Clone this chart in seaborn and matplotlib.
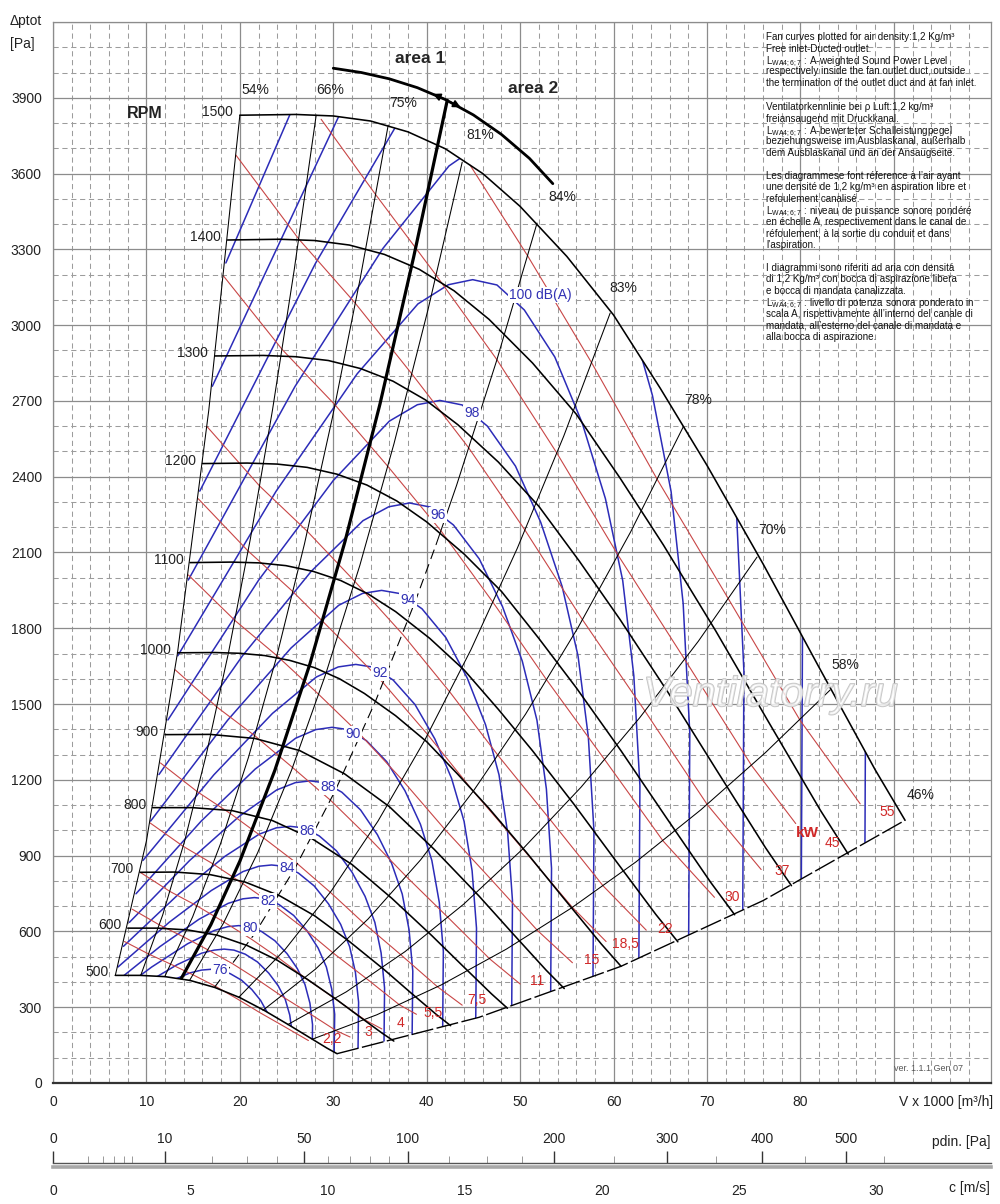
import numpy as np
import matplotlib
matplotlib.use("Agg")
import matplotlib.pyplot as plt
import seaborn as sns
from matplotlib.patches import Polygon
import matplotlib.patheffects as pe

sns.set_style("white")
plt.rcParams["font.family"] = ["Liberation Sans", "DejaVu Sans"]
plt.rcParams["mathtext.fontset"] = "custom"
plt.rcParams["mathtext.rm"] = "Liberation Sans"

# ---------------- data ----------------
# fan curves (V x1000 m3/h , p Pa) per rotational speed
rpm_levels = [500, 600, 700, 800, 900, 1000, 1100, 1200, 1300, 1400, 1500]
rpm1500_V = [20, 26, 30, 34, 38, 42, 46, 50, 55, 60, 65, 70, 76, 82, 88, 91.2]
rpm1500_p = [3831, 3834, 3828, 3808, 3765, 3698, 3600, 3470, 3272, 3040, 2750, 2445, 2055, 1645, 1240, 1040]
rpm1400_V = [18.67, 24.27, 28.0, 31.73, 35.47, 39.2, 42.93, 46.67, 51.33, 56.0, 60.67, 65.33, 70.93, 76.53, 82.13, 85.12]
rpm1400_p = [3337, 3340, 3335, 3317, 3280, 3221, 3136, 3023, 2850, 2648, 2396, 2130, 1790, 1433, 1080, 906]
rpm1300_V = [17.33, 22.53, 26.0, 29.47, 32.93, 36.4, 39.87, 43.33, 47.67, 52.0, 56.33, 60.67, 65.87, 71.07, 76.27, 79.04]
rpm1300_p = [2878, 2880, 2875, 2860, 2828, 2778, 2704, 2606, 2458, 2283, 2066, 1836, 1544, 1236, 931, 781]
rpm1200_V = [16, 20.8, 24, 27.2, 30.4, 33.6, 36.8, 40, 44, 48, 52, 56, 60.8, 65.6, 70.4, 72.96]
rpm1200_p = [2452, 2454, 2450, 2437, 2410, 2367, 2304, 2221, 2094, 1946, 1760, 1565, 1315, 1053, 794, 666]
rpm1100_V = [14.67, 19.07, 22.0, 24.93, 27.87, 30.8, 33.73, 36.67, 40.33, 44.0, 47.67, 51.33, 55.73, 60.13, 64.53, 66.88]
rpm1100_p = [2060, 2062, 2059, 2048, 2025, 1989, 1936, 1866, 1760, 1635, 1479, 1315, 1105, 885, 667, 559]
rpm1000_V = [13.33, 17.33, 20.0, 22.67, 25.33, 28.0, 30.67, 33.33, 36.67, 40.0, 43.33, 46.67, 50.67, 54.67, 58.67, 60.8]
rpm1000_p = [1703, 1704, 1701, 1692, 1673, 1644, 1600, 1542, 1454, 1351, 1222, 1087, 913, 731, 551, 462]
rpm900_V = [12.0, 16.8, 21.6, 26.4, 31.2, 36.0, 40.8, 45.6, 49.2, 52.8, 54.72]
rpm900_p = [1379, 1380, 1364, 1316, 1224, 1094, 925, 740, 592, 446, 374]
rpm800_V = [10.67, 14.93, 19.2, 23.47, 27.73, 32.0, 36.27, 40.53, 43.73, 46.93, 48.64]
rpm800_p = [1090, 1090, 1078, 1039, 967, 865, 731, 584, 468, 353, 296]
rpm700_V = [9.33, 13.07, 16.8, 20.53, 24.27, 28.0, 31.73, 35.47, 38.27, 41.07, 42.56]
rpm700_p = [834, 835, 825, 796, 741, 662, 560, 448, 358, 270, 227]
rpm600_V = [8.0, 11.2, 14.4, 17.6, 20.8, 24.0, 27.2, 30.4, 32.8, 35.2, 36.48]
rpm600_p = [613, 613, 606, 585, 544, 486, 411, 329, 263, 198, 166]
rpm500_V = [6.67, 9.33, 12.0, 14.67, 17.33, 20.0, 22.67, 25.33, 27.33, 29.33, 30.4]
rpm500_p = [426, 426, 421, 406, 378, 338, 286, 228, 183, 138, 116]

# iso-efficiency lines
eff54_V = [6.67, 10.0, 13.33, 16.67, 20.0]
eff54_p = [426, 958, 1704, 2662, 3831]
eff66_V = [9.39, 11.74, 14.09, 16.43, 18.78, 21.13, 23.48, 25.82, 28.17]
eff66_p = [426, 665, 958, 1304, 1703, 2155, 2661, 3219, 3831]
eff75_V = [11.96, 14.95, 17.94, 20.93, 23.92, 26.91, 29.9, 32.89, 35.88]
eff75_p = [421, 658, 948, 1290, 1685, 2133, 2633, 3186, 3792]
eff81_V = [14.6, 18.25, 21.9, 25.55, 29.2, 32.85, 36.5, 40.15, 43.8]
eff81_p = [405, 633, 911, 1240, 1620, 2050, 2531, 3063, 3645]
eff84_dash_V = [17.27, 21.59, 25.91, 30.22, 34.54, 38.86, 41.0]
eff84_dash_p = [378, 591, 851, 1158, 1513, 1915, 2131]
eff84_V = [41.0, 43.18, 47.49, 51.81]
eff84_p = [2131, 2364, 2860, 3404]
eff83_V = [19.88, 24.85, 29.82, 34.79, 39.76, 44.73, 49.7, 54.67, 59.64]
eff83_p = [339, 529, 762, 1037, 1355, 1715, 2117, 2561, 3048]
eff78_V = [22.48, 28.1, 33.72, 39.34, 44.96, 50.58, 56.2, 61.82, 67.44]
eff78_p = [288, 451, 649, 883, 1154, 1460, 1803, 2181, 2596]
eff70_V = [25.12, 31.4, 37.68, 43.96, 50.24, 56.52, 62.8, 69.08, 75.36]
eff70_p = [231, 361, 520, 708, 925, 1171, 1446, 1749, 2082]
eff58_V = [27.73, 34.66, 41.6, 48.53, 55.46, 62.39, 69.33, 76.26, 83.19]
eff58_p = [173, 270, 389, 530, 692, 875, 1081, 1308, 1556]
eff46_V = [30.4, 45.6, 60.8, 76.0, 91.2]
eff46_p = [116, 260, 462, 722, 1040]
eff_labels = ["54%", "66%", "75%", "81%", "84%", "83%", "78%", "70%", "58%", "46%"]
eff_label_V = [21.63, 29.66, 37.47, 45.72, 54.50, 61.03, 69.06, 76.98, 84.80, 92.83]
eff_label_p = [3930, 3930, 3879, 3752, 3507, 3147, 2703, 2189, 1654, 1140]

# absorbed power lines (kW)
kw2_2_V = [7.65, 10.27, 12.63, 15.0, 17.38, 19.72, 22.12, 24.73, 27.34]
kw2_2_p = [560, 510, 470, 428, 383, 333, 279, 224, 168]
kw3_V = [8.475, 11.38, 14.0, 16.63, 19.27, 21.87, 24.52, 27.42, 30.32, 31.8]
kw3_p = [688, 626, 578, 526, 471, 410, 343, 276, 207, 182]
kw4_V = [9.33, 12.53, 15.42, 18.31, 21.21, 24.07, 26.99, 30.18, 33.37, 35.2]
kw4_p = [834, 758, 701, 637, 570, 497, 416, 334, 250, 214]
kw5_5_V = [10.37, 13.93, 17.14, 20.36, 23.58, 26.77, 30.01, 33.56, 37.10, 38.9]
kw5_5_p = [1030, 937, 867, 788, 705, 614, 514, 413, 309, 272]
kw7_5_V = [11.50, 15.45, 19.01, 22.58, 26.16, 29.68, 33.28, 37.22, 41.15, 43.8]
kw7_5_p = [1267, 1153, 1066, 969, 868, 755, 632, 508, 381, 308]
kw11_V = [13.07, 17.55, 21.59, 25.64, 29.71, 33.72, 37.82, 42.29, 46.75, 50.0]
kw11_p = [1636, 1488, 1375, 1249, 1119, 974, 817, 655, 491, 392]
kw15_V = [14.49, 19.47, 23.95, 28.45, 32.95, 37.40, 41.94, 46.89, 51.85, 55.6]
kw15_p = [2011, 1831, 1692, 1538, 1377, 1199, 1004, 806, 604, 476]
kw18_5_V = [15.54, 20.88, 25.68, 30.50, 35.34, 40.11, 44.98, 50.28, 55.60, 59.2]
kw18_5_p = [2313, 2106, 1945, 1767, 1584, 1379, 1155, 927, 695, 560]
kw22_V = [16.47, 22.12, 27.21, 32.32, 37.43, 42.49, 47.65, 53.27, 58.89, 63.5]
kw22_p = [2599, 2363, 2184, 1985, 1776, 1547, 1296, 1040, 780, 605]
kw30_V = [18.26, 24.52, 30.17, 35.84, 41.52, 47.11, 52.85, 59.07, 65.30, 70.8]
kw30_p = [3194, 2904, 2685, 2441, 2186, 1902, 1595, 1279, 958, 735]
kw37_V = [19.58, 26.30, 32.35, 38.43, 44.52, 50.53, 56.67, 63.37, 70.03, 75.8]
kw37_p = [3673, 3341, 3087, 2806, 2513, 2188, 1834, 1472, 1102, 845]
kw45_V = [28.7, 34.53, 41.02, 47.52, 53.94, 60.49, 67.63, 74.77, 79.5]
kw45_p = [3815, 3517, 3197, 2863, 2493, 2089, 1676, 1257, 1027]
kw55_V = [44.65, 50.81, 57.67, 64.68, 72.30, 79.94, 86.4]
kw55_p = [3633, 3274, 2850, 2389, 1916, 1437, 1105]
kw_labels = ["2,2", "3", "4", "5,5", "7,5", "11", "15", "18,5", "22", "30", "37", "45", "55"]
kw_label_V = [29.87, 33.73, 37.15, 40.69, 45.40, 51.82, 57.71, 61.24, 65.52, 72.70, 78.05, 83.40, 89.29]
kw_label_p = [174, 202, 237, 277, 329, 404, 487, 550, 610, 736, 839, 950, 1073]

# sound power level curves dB(A)
db76_V = [5.01, 8.97, 12.23, 14.68, 15.90, 16.88, 17.85, 18.96, 20.18, 21.28, 22.22, 22.91, 23.36, 23.60, 23.56]
db76_p = [239, 331, 398, 436, 447, 450, 447, 433, 407, 370, 327, 281, 228, 167, 70]
db78_V = [5.44, 9.73, 13.27, 15.92, 17.25, 18.31, 19.37, 20.57, 21.89, 23.09, 24.10, 24.86, 25.34, 25.61, 25.56]
db78_p = [282, 390, 468, 514, 526, 530, 526, 510, 479, 435, 385, 331, 269, 196, 83]
db80_V = [5.90, 10.56, 14.40, 17.28, 18.72, 19.87, 21.02, 22.31, 23.75, 25.05, 26.15, 26.97, 27.50, 27.78, 27.74]
db80_p = [331, 459, 551, 604, 619, 623, 619, 600, 563, 512, 453, 390, 316, 231, 97]
db82_V = [6.40, 11.45, 15.62, 18.74, 20.31, 21.56, 22.80, 24.21, 25.77, 27.18, 28.38, 29.26, 29.83, 30.15, 30.09]
db82_p = [390, 540, 648, 711, 729, 734, 729, 706, 663, 603, 534, 459, 372, 272, 115]
db84_V = [6.95, 12.43, 16.95, 20.34, 22.03, 23.39, 24.74, 26.27, 27.96, 29.49, 30.79, 31.75, 32.37, 32.71, 32.65]
db84_p = [459, 636, 762, 837, 858, 863, 858, 831, 780, 709, 628, 540, 438, 320, 135]
db86_V = [7.54, 13.48, 18.39, 22.07, 23.90, 25.38, 26.85, 28.50, 30.34, 32.00, 33.40, 34.45, 35.12, 35.49, 35.43]
db86_p = [541, 749, 897, 985, 1010, 1016, 1010, 978, 919, 835, 739, 636, 515, 376, 159]
db88_V = [8.18, 14.63, 19.95, 23.94, 25.94, 27.53, 29.13, 30.92, 32.92, 34.72, 36.24, 37.38, 38.11, 38.51, 38.44]
db88_p = [636, 881, 1056, 1160, 1189, 1196, 1188, 1151, 1081, 983, 870, 748, 607, 443, 187]
db90_V = [8.88, 15.87, 21.65, 25.98, 28.14, 29.87, 31.60, 33.55, 35.72, 37.67, 39.33, 40.55, 41.35, 41.78, 41.71]
db90_p = [749, 1037, 1243, 1365, 1399, 1408, 1399, 1355, 1272, 1157, 1024, 881, 714, 521, 220]
db92_V = [9.63, 17.22, 23.49, 28.18, 30.53, 32.41, 34.29, 36.41, 38.75, 40.87, 42.67, 44.00, 44.86, 45.33, 45.25]
db92_p = [881, 1220, 1463, 1607, 1647, 1657, 1646, 1595, 1498, 1362, 1205, 1036, 840, 613, 259]
db94_V = [10.45, 18.69, 25.48, 30.58, 33.13, 35.17, 37.21, 39.50, 42.05, 44.34, 46.30, 47.74, 48.67, 49.18, 49.10]
db94_p = [1037, 1436, 1722, 1891, 1938, 1950, 1937, 1877, 1763, 1603, 1418, 1220, 989, 722, 305]
db96_V = [11.34, 20.28, 27.65, 33.18, 35.94, 38.16, 40.37, 42.86, 45.62, 48.11, 50.23, 51.80, 52.81, 53.36, 53.27]
db96_p = [1221, 1691, 2026, 2226, 2281, 2296, 2280, 2209, 2075, 1886, 1670, 1436, 1164, 850, 359]
db98_V = [12.3, 22.0, 30.0, 36.0, 39.0, 41.4, 43.8, 46.5, 49.5, 52.2, 54.5, 56.2, 57.3, 57.9, 57.8]
db98_p = [1437, 1990, 2385, 2620, 2685, 2702, 2684, 2600, 2442, 2220, 1965, 1690, 1370, 1000, 422]
db100_V = [13.35, 23.87, 32.55, 39.06, 42.32, 44.92, 47.52, 50.45, 53.71, 56.64, 59.13, 60.98, 62.17, 62.82, 62.71]
db100_p = [1691, 2342, 2807, 3084, 3160, 3180, 3159, 3060, 2874, 2613, 2313, 1989, 1612, 1177, 497]
db102_V = [14.48, 25.90, 35.32, 42.38, 45.91, 48.74, 51.56, 54.74, 58.27, 61.45, 64.16, 66.16, 67.45, 68.16, 68.04]
db102_p = [1991, 2757, 3304, 3630, 3720, 3743, 3718, 3602, 3383, 3075, 2722, 2341, 1898, 1385, 585]
db104_V = [15.71, 28.10, 38.32, 45.98, 49.81, 52.88, 55.95, 59.39, 63.23, 66.68, 69.61, 71.78, 73.19, 73.95, 73.83]
db104_p = [2343, 3245, 3889, 4272, 4378, 4406, 4376, 4239, 3982, 3620, 3204, 2756, 2234, 1631, 688]
db106_V = [17.05, 30.49, 41.58, 49.89, 54.05, 57.38, 60.70, 64.44, 68.60, 72.34, 75.53, 77.89, 79.41, 80.24, 80.10]
db106_p = [2758, 3819, 4577, 5028, 5153, 5185, 5151, 4990, 4686, 4260, 3771, 3243, 2629, 1919, 810]
db108_V = [18.50, 33.08, 45.11, 54.13, 58.64, 62.25, 65.86, 69.92, 74.43, 78.49, 81.95, 84.51, 86.16, 87.06, 86.91]
db108_p = [3246, 4495, 5387, 5918, 6065, 6103, 6063, 5873, 5516, 5015, 4439, 3817, 3095, 2259, 953]
db_label_text = ["76", "80", "82", "84", "86", "88", "90", "92", "94", "96", "98", "100 dB(A)"]
db_label_V = [17.88, 21.08, 23.02, 25.05, 27.19, 29.44, 32.12, 35.01, 38.01, 41.22, 44.86, 52.14]
db_label_p = [447, 613, 720, 851, 997, 1172, 1381, 1623, 1912, 2248, 2652, 3119]

# area 1 / area 2 boundary
area_line_V = [13.75, 16.9, 20.0, 23.75, 27.5, 31.25, 35.0, 38.6, 42.2]
area_line_p = [415, 627, 878, 1238, 1659, 2143, 2688, 3269, 3890]
area_arc_V = [30.0, 33.0, 36.0, 39.0, 42.0, 45.0, 48.0, 51.0, 53.5]
area_arc_p = [4017, 4000, 3975, 3940, 3893, 3832, 3755, 3660, 3560]

# axis ticks
x_major = [0, 10, 20, 30, 40, 50, 60, 70, 80, 90]
x_labels = ["0", "10", "20", "30", "40", "50", "60", "70", "80", ""]
y_major = [0, 300, 600, 900, 1200, 1500, 1800, 2100, 2400, 2700, 3000, 3300, 3600, 3900, 4200]
y_labels = ["0", "300", "600", "900", "1200", "1500", "1800", "2100", "2400", "2700", "3000",
            "3300", "3600", "3900", ""]
pdin_major = [0, 10, 50, 100, 200, 300, 400, 500]
pdin_minor = [1, 2, 3, 4, 5, 20, 30, 40, 60, 70, 80, 90, 125, 150, 175, 250, 350, 450, 550]
c_major = [0, 5, 10, 15, 20, 25, 30]
c_minor = [1, 2, 3, 4, 6, 7, 8, 9, 11, 12, 13, 14, 16, 17, 18, 19, 21, 22, 23, 24, 26, 27, 28, 29, 31, 32, 33, 34]
air_density = 1.2

# notes (text lines, first-line y in pixels)
LW = r"$\mathregular{L_{WA4{;}6{;}7}}$"
note_en = ["Fan curves plotted for air density:1,2 Kg/m³",
           "Free inlet-Ducted outlet.",
           LW + " : A-weighted Sound Power Level",
           "respectively inside the fan outlet duct, outside",
           "the termination of the outlet duct and at fan inlet."]
note_de = ["Ventilatorkennlinie bei ρ Luft:1,2 kg/m³",
           "freiansaugend mit Druckkanal.",
           LW + " : A-bewerteter Schalleistungpegel",
           "beziehungsweise im Ausblaskanal, außerhalb",
           "dem Ausblaskanal und an der Ansaugseite."]
note_fr = ["Les diagrammese font réference à l’air ayant",
           "une densité de 1,2 kg/m³ en aspiration libre et",
           "refoulement canalisé.",
           LW + " : niveau de puissance sonore pondéré",
           "en échelle A, respectivement dans le canal de",
           "réfoulement, à la sortie du conduit et dans",
           "l’aspiration."]
note_it = ["I diagrammi sono riferiti ad aria con densitá",
           "di 1,2 Kg/m³ con bocca di aspirazione libera",
           "e bocca di mandata canalizzata.",
           LW + " : livello di potenza sonora ponderato in",
           "scala A, rispettivamente all’interno del canale di",
           "mandata, all’esterno del canale di mandata e",
           "alla bocca di aspirazione."]
note_blocks = [(note_en, 36), (note_de, 106), (note_fr, 175), (note_it, 267)]

# ---------------- figure ----------------
BLUE = "#2c2cb8"
RED = "#c84646"
fig = plt.figure(figsize=(10, 12.04), dpi=100)
ax = fig.add_axes([0.053, 0.10050, 0.938, 0.88123])

# clip region of the fan field
clip_V = eff54_V + rpm1500_V + eff46_V[::-1] + rpm500_V[::-1]
clip_p = eff54_p + rpm1500_p + eff46_p[::-1] + rpm500_p[::-1]
field = Polygon(np.column_stack([clip_V, clip_p]), closed=True, transform=ax.transData)


def draw(V, P, color, lw, ls="-", z=2.0, clip=None):
    sns.lineplot(x=V, y=P, ax=ax, sort=False, estimator=None, color=color,
                 linewidth=lw, legend=False)
    ln = ax.lines[-1]
    ln.set_linestyle(ls)
    ln.set_zorder(z)
    if clip is not None:
        ln.set_clip_path(clip)
    return ln


db_curves = [(db76_V, db76_p), (db78_V, db78_p), (db80_V, db80_p), (db82_V, db82_p),
             (db84_V, db84_p), (db86_V, db86_p), (db88_V, db88_p), (db90_V, db90_p),
             (db92_V, db92_p), (db94_V, db94_p), (db96_V, db96_p), (db98_V, db98_p),
             (db100_V, db100_p), (db102_V, db102_p), (db104_V, db104_p),
             (db106_V, db106_p), (db108_V, db108_p)]
for V, P in db_curves:
    draw(V, P, BLUE, 1.1, z=2.0, clip=field)

kw_curves = [(kw2_2_V, kw2_2_p), (kw3_V, kw3_p), (kw4_V, kw4_p), (kw5_5_V, kw5_5_p),
             (kw7_5_V, kw7_5_p), (kw11_V, kw11_p), (kw15_V, kw15_p), (kw18_5_V, kw18_5_p),
             (kw22_V, kw22_p), (kw30_V, kw30_p), (kw37_V, kw37_p), (kw45_V, kw45_p),
             (kw55_V, kw55_p)]
for V, P in kw_curves:
    draw(V, P, RED, 0.8, z=2.2)

eff_curves = [(eff54_V, eff54_p), (eff66_V, eff66_p), (eff75_V, eff75_p), (eff81_V, eff81_p),
              (eff84_V, eff84_p), (eff83_V, eff83_p), (eff78_V, eff78_p), (eff70_V, eff70_p),
              (eff58_V, eff58_p)]
for V, P in eff_curves:
    draw(V, P, "black", 0.75, z=2.5)
draw(eff84_dash_V, eff84_dash_p, "black", 0.8, ls=(0, (9, 5)), z=2.5)
draw(eff46_V, eff46_p, "black", 1.0, ls=(0, (16, 2.5)), z=2.5)

rpm_curves = [(rpm500_V, rpm500_p), (rpm600_V, rpm600_p), (rpm700_V, rpm700_p),
              (rpm800_V, rpm800_p), (rpm900_V, rpm900_p), (rpm1000_V, rpm1000_p),
              (rpm1100_V, rpm1100_p), (rpm1200_V, rpm1200_p), (rpm1300_V, rpm1300_p),
              (rpm1400_V, rpm1400_p), (rpm1500_V, rpm1500_p)]
for (V, P), n in zip(rpm_curves, rpm_levels):
    draw(V, P, "black", 1.15, z=3)
    ax.text(V[0] - 0.7, P[0] + 12, str(n), ha="right", va="center", fontsize=10,
            color="#222222", zorder=5)

draw(area_line_V, area_line_p, "black", 2.3, z=4)
draw(area_arc_V, area_arc_p, "black", 2.0, z=4)
ax.annotate("", xy=(40.4, 3920), xytext=(42.2, 3890),
            arrowprops=dict(arrowstyle="-|>", color="black", lw=1.2, mutation_scale=11), zorder=5)
ax.annotate("", xy=(43.9, 3857), xytext=(42.2, 3890),
            arrowprops=dict(arrowstyle="-|>", color="black", lw=1.2, mutation_scale=11), zorder=5)

# labels
for t, V, P in zip(eff_labels, eff_label_V, eff_label_p):
    ax.text(V, P, t, ha="center", va="center", fontsize=10, color="#222222", zorder=5)
for t, V, P in zip(kw_labels, kw_label_V, kw_label_p):
    ax.text(V, P, t, ha="center", va="center", fontsize=10, color="#d02828", zorder=5)
ax.text(80.73, 990, "kW", ha="center", va="center", fontsize=11, fontweight="bold",
        color="#d02828", zorder=5)
for t, V, P in zip(db_label_text, db_label_V, db_label_p):
    ax.text(V, P, t, ha="center", va="center", fontsize=10, color="#3232b4", zorder=5,
            bbox=dict(boxstyle="square,pad=0.08", fc="white", ec="none"))
ax.text(9.85, 3839, "RPM", ha="center", va="center", fontsize=11.5, fontweight="bold",
        color="#222222", zorder=5)
ax.text(39.28, 4057, "area 1", ha="center", va="center", fontsize=12.5, fontweight="bold", zorder=5)
ax.text(51.37, 3938, "area 2", ha="center", va="center", fontsize=12.5, fontweight="bold", zorder=5)
ax.text(93.7, 59, "ver. 1.1.1 Gen 07", ha="center", va="center", fontsize=6.5, color="#555555")
ax.text(76.8, 1536, "Ventilatorry.ru", ha="center", va="center", fontsize=30, style="italic",
        color=(1, 1, 1, 0.55), zorder=6,
        path_effects=[pe.withStroke(linewidth=1.2, foreground="#c4c4c4")])

# grid / axes
ax.set_xlim(0, 100.4)
ax.set_ylim(0, 4200)
ax.set_xticks(x_major)
ax.set_xticklabels(x_labels)
ax.set_xticks([v for v in range(2, 100, 2) if v % 10], minor=True)
ax.set_yticks(y_major)
ax.set_yticklabels(y_labels)
ax.set_yticks([v for v in range(100, 4200, 100) if v % 300], minor=True)
ax.grid(which="major", color="#8c8c8c", lw=0.9, ls="-", zorder=0)
ax.grid(which="minor", color="#9c9c9c", lw=0.75, ls=(0, (5, 3.5)), zorder=0)
ax.set_axisbelow(True)
ax.tick_params(axis="x", which="major", length=5, width=0.8, color="#777777", pad=4,
               labelsize=10, labelcolor="#222222")
ax.tick_params(axis="y", which="major", length=3, width=0.8, color="#8c8c8c", pad=5,
               labelsize=10, labelcolor="#222222")
ax.tick_params(which="minor", length=0)
ax.set_xlabel("")
ax.set_ylabel("")
for s in ["left", "top", "right"]:
    ax.spines[s].set_color("#8c8c8c")
    ax.spines[s].set_linewidth(0.9)
ax.spines["bottom"].set_color("#333333")
ax.spines["bottom"].set_linewidth(1.6)

fig.text(0.010, 1 - 21 / 1204, "Δptot", ha="left", va="center", fontsize=10, color="#222222")
fig.text(0.010, 1 - 44 / 1204, "[Pa]", ha="left", va="center", fontsize=10, color="#222222")
fig.text(0.993, 1 - 1102 / 1204, "V x 1000 [m³/h]", ha="right", va="center", fontsize=10,
         color="#222222")

# notes, one line at a time with a fixed pitch
for lines, y0 in note_blocks:
    for i, txt in enumerate(lines):
        fig.text(0.766, 1 - (y0 + 11.5 * i) / 1204, txt, ha="left", va="center_baseline",
                 fontsize=7.1, color="#111111")


# dynamic pressure scale (pdin = rho/2 * c^2), drawn with a function scale
def pdin_to_c(x):
    return np.sqrt(np.maximum(x, 0) / (air_density / 2))


def c_to_pdin(c):
    return air_density / 2 * np.asarray(c) ** 2


ax_p = fig.add_axes([0.053, 0.03405 - 0.004, 0.938, 0.004])
ax_p.set_facecolor("none")
for s in ["left", "right", "bottom"]:
    ax_p.spines[s].set_visible(False)
ax_p.spines["top"].set_color("#555555")
ax_p.spines["top"].set_linewidth(1.0)
ax_p.set_xscale("function", functions=(pdin_to_c, c_to_pdin))
ax_p.set_xlim(0, 700)
ax_p.set_yticks([])
ax_p.xaxis.tick_top()
ax_p.set_xticks(pdin_major)
ax_p.set_xticklabels([str(v) for v in pdin_major])
ax_p.set_xticks(pdin_minor, minor=True)
ax_p.xaxis.set_minor_formatter(plt.NullFormatter())
ax_p.tick_params(axis="x", which="major", direction="out", length=9, width=1.0, color="#333333",
                 top=True, bottom=False, labeltop=True, labelbottom=False, pad=3, labelsize=10,
                 labelcolor="#222222")
ax_p.tick_params(axis="x", which="minor", direction="out", length=5, width=0.7, color="#999999",
                 top=True, bottom=False)
fig.text(0.990, 1 - 1142 / 1204, "pdin. [Pa]", ha="right", va="center", fontsize=10, color="#222222")

ax_c = fig.add_axes([0.053, 0.03073, 0.938, 0.004])
ax_c.set_facecolor("none")
for s in ["left", "right", "top"]:
    ax_c.spines[s].set_visible(False)
ax_c.spines["bottom"].set_color("#a8a8a8")
ax_c.spines["bottom"].set_linewidth(2.6)
ax_c.set_xlim(0, 34.17)
ax_c.set_yticks([])
ax_c.set_xticks(c_major)
ax_c.set_xticklabels([str(v) for v in c_major])
ax_c.set_xticks(c_minor, minor=True)
ax_c.tick_params(axis="x", which="major", direction="out", length=9, width=1.0, color="#444444",
                 pad=3, labelsize=10, labelcolor="#222222")
ax_c.tick_params(axis="x", which="minor", direction="out", length=5, width=0.7, color="#888888")
fig.text(0.990, 1 - 1188 / 1204, "c [m/s]", ha="right", va="center", fontsize=10, color="#222222")

fig.savefig("out.png", dpi=100)
